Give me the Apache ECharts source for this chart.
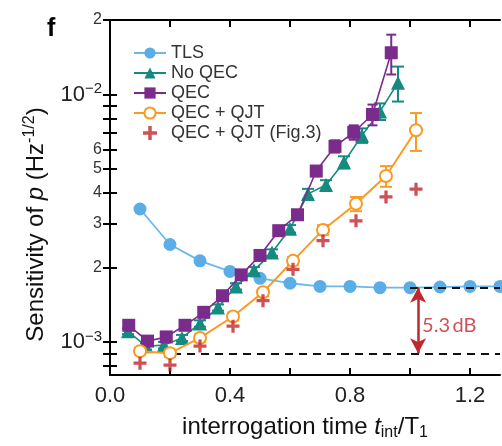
<!DOCTYPE html>
<html>
<head>
<meta charset="utf-8">
<script src="https://cdn.jsdelivr.net/npm/echarts@6/dist/echarts.min.js"></script>
<style>
  html, body { margin: 0; padding: 0; background: #fff; }
  #chart { width: 502px; height: 446px; }
</style>
</head>
<body>
<div id="chart"></div>
<script>
// Interrogation time (t_int / T1) and sensitivity of p (Hz^-1/2)
const tlsX = [0.1, 0.2, 0.3, 0.4, 0.5, 0.6, 0.7, 0.8, 0.9, 1.0, 1.1, 1.2, 1.3];
const tlsY = [3.45e-3, 2.48e-3, 2.13e-3, 1.93e-3, 1.81e-3, 1.73e-3, 1.68e-3, 1.68e-3, 1.66e-3, 1.66e-3, 1.67e-3, 1.68e-3, 1.68e-3];

const noQecX = [0.06, 0.12, 0.18, 0.24, 0.30, 0.36, 0.42, 0.48, 0.54, 0.60, 0.66, 0.72, 0.78, 0.84, 0.90, 0.96];
const noQecY = [1.107e-3, 0.963e-3, 0.973e-3, 1.04e-3, 1.19e-3, 1.38e-3, 1.68e-3, 1.95e-3, 2.30e-3, 2.87e-3, 3.97e-3, 4.31e-3, 5.33e-3, 6.84e-3, 8.55e-3, 11.17e-3];
const noQecErr = [0.03e-3, 0.03e-3, 0.03e-3, 0.03e-3, 0.035e-3, 0.04e-3, 0.05e-3, 0.06e-3, 0.07e-3, 0.10e-3, 0.19e-3, 0.20e-3, 0.30e-3, 0.46e-3, 0.66e-3, 1.8e-3];

const qecX = [0.0625, 0.125, 0.1875, 0.25, 0.3125, 0.375, 0.4375, 0.5, 0.5625, 0.625, 0.6875, 0.75, 0.8125, 0.875, 0.9375];
const qecY = [1.17e-3, 1.01e-3, 1.05e-3, 1.17e-3, 1.32e-3, 1.54e-3, 1.87e-3, 2.24e-3, 2.82e-3, 3.27e-3, 4.91e-3, 6.18e-3, 7.04e-3, 8.31e-3, 14.75e-3];
const qecErr = [0.03e-3, 0.03e-3, 0.03e-3, 0.035e-3, 0.04e-3, 0.045e-3, 0.055e-3, 0.065e-3, 0.08e-3, 0.12e-3, 0.23e-3, 0.35e-3, 0.47e-3, 0.8e-3, 2.7e-3];

const qjtX = [0.1, 0.2, 0.3, 0.41, 0.51, 0.61, 0.71, 0.82, 0.92, 1.02];
const qjtY = [0.92e-3, 0.903e-3, 1.04e-3, 1.27e-3, 1.59e-3, 2.13e-3, 2.84e-3, 3.62e-3, 4.69e-3, 7.17e-3];
const qjtErr = [0.03e-3, 0.03e-3, 0.035e-3, 0.045e-3, 0.055e-3, 0.075e-3, 0.13e-3, 0.24e-3, 0.45e-3, 1.25e-3];

const fig3X = [0.1, 0.2, 0.3, 0.41, 0.51, 0.61, 0.71, 0.82, 0.92, 1.02];
const fig3Y = [0.823e-3, 0.808e-3, 0.964e-3, 1.16e-3, 1.47e-3, 1.97e-3, 2.57e-3, 3.09e-3, 3.86e-3, 4.15e-3];

// Gain annotation: TLS plateau versus the QEC + QJT optimum
const gainDb = 5.3;
const tlsPlateau = 1.66e-3;
const qjtOptimum = tlsPlateau / Math.pow(10, gainDb / 20);
const arrowX = 1.027;

// Axis ticks and labels
const xTicks = [0, 0.2, 0.4, 0.6, 0.8, 1.0, 1.2];
const xLabels = [0, 0.4, 0.8, 1.2];
const yTicks = [8e-4, 9e-4, 1e-3, 2e-3, 3e-3, 4e-3, 5e-3, 6e-3, 7e-3, 8e-3, 9e-3, 1e-2, 2e-2];
const yLabels = [1e-3, 2e-3, 3e-3, 4e-3, 5e-3, 6e-3, 1e-2, 2e-2];

const X_MIN = 0, X_MAX = 1.3, Y_MIN = 7.37e-4, Y_MAX = 2e-2;

const C_TLS = '#5aade6', C_TEAL = '#148a80', C_PURPLE = '#7a2b8c', C_ORANGE = '#fa9a24', C_RED = '#c1272d';
const FONT = '"Liberation Sans", Arial, sans-serif';
const PLUS = 'path://M4.5,0H7.5V4.5H12V7.5H7.5V12H4.5V7.5H0V4.5H4.5Z';

const zip = (xs, ys) => xs.map((x, i) => [x, ys[i]]);
const bars = (xs, ys, es) => xs.map((x, i) => [x, ys[i] - es[i], ys[i] + es[i]]);

function errorBars(name, xs, ys, es, color, cap, z) {
  return {
    type: 'custom',
    name: name + ' err',
    xAxisIndex: 0, yAxisIndex: 0,
    data: bars(xs, ys, es),
    encode: { x: 0, y: [1, 2] },
    z: z,
    silent: true,
    renderItem: function (params, api) {
      const x = api.value(0);
      const lo = api.coord([x, api.value(1)]);
      const hi = api.coord([x, api.value(2)]);
      const st = { stroke: color, lineWidth: 2 };
      return {
        type: 'group',
        children: [
          { type: 'line', shape: { x1: hi[0], y1: hi[1], x2: lo[0], y2: lo[1] }, style: st },
          { type: 'line', shape: { x1: hi[0] - cap, y1: hi[1], x2: hi[0] + cap, y2: hi[1] }, style: st },
          { type: 'line', shape: { x1: lo[0] - cap, y1: lo[1], x2: lo[0] + cap, y2: lo[1] }, style: st }
        ]
      };
    }
  };
}

function yLabel(v) {
  const e = Math.floor(Math.log10(v) + 1e-9);
  const m = Math.round(v / Math.pow(10, e));
  if (m === 1) return '{b|10}{sup|\u2212' + (-e) + '}';
  return '{m|' + m + '}';
}

const chart = echarts.init(document.getElementById('chart'), null, { renderer: 'canvas' });

const axisLineStyle = { show: true, lineStyle: { color: '#000', width: 2 } };

chart.setOption({
  animation: false,
  backgroundColor: '#fff',
  textStyle: { fontFamily: FONT },
  grid: { left: 110, right: 2, top: 20, bottom: 69, containLabel: false },
  legend: {
    data: ['TLS', 'No QEC', 'QEC', 'QEC + QJT', 'QEC + QJT (Fig.3)'],
    orient: 'vertical',
    left: 128, top: 39,
    itemWidth: 32, itemHeight: 14, itemGap: 2,
    textStyle: { fontFamily: FONT, fontSize: 18, color: '#333', lineHeight: 18 },
    selectedMode: false
  },
  xAxis: [
    {
      type: 'value', position: 'bottom', min: X_MIN, max: X_MAX,
      axisLine: axisLineStyle,
      axisTick: { inside: true, length: 7, lineStyle: { color: '#000', width: 2 }, customValues: xTicks },
      axisLabel: {
        customValues: xLabels, margin: 10, fontSize: 22, color: '#222', fontFamily: FONT,
        formatter: v => v.toFixed(1)
      },
      splitLine: { show: false },
      name: '{n|interrogation time }{i|t}{s|int}{n|/T}{s|1}',
      nameLocation: 'middle', nameGap: 38,
      nameTextStyle: {
        rich: {
          n: { fontSize: 24, fontFamily: FONT, color: '#111', lineHeight: 28 },
          i: { fontSize: 24, fontFamily: FONT, color: '#111', fontStyle: 'italic', lineHeight: 28 },
          s: { fontSize: 16, fontFamily: FONT, color: '#111', lineHeight: 11, verticalAlign: 'bottom' }
        }
      }
    },
    {
      type: 'value', position: 'top', min: X_MIN, max: X_MAX,
      axisLine: axisLineStyle,
      axisTick: { inside: true, length: 7, lineStyle: { color: '#000', width: 2 }, customValues: xTicks },
      axisLabel: { show: false },
      splitLine: { show: false }
    }
  ],
  yAxis: [
    {
      type: 'log', logBase: 10, position: 'left', min: Y_MIN, max: Y_MAX,
      axisLine: axisLineStyle,
      axisTick: { inside: true, length: 7, lineStyle: { color: '#000', width: 2 }, customValues: yTicks },
      axisLabel: {
        customValues: yLabels, margin: 8, formatter: yLabel,
        rich: {
          b: { fontSize: 22, fontFamily: FONT, color: '#222', lineHeight: 26 },
          sup: { fontSize: 15, fontFamily: FONT, color: '#222', lineHeight: 12, verticalAlign: 'top' },
          m: { fontSize: 16, fontFamily: FONT, color: '#333', lineHeight: 16 }
        }
      },
      splitLine: { show: false },
      minorTick: { show: false },
      name: '{n|Sensitivity of }{i|p}{n| (Hz}{s|-1/2}{n|)}',
      nameLocation: 'middle', nameGap: 60, nameRotate: 90,
      nameTextStyle: {
        padding: [0, 54, 0, 0],
        rich: {
          n: { fontSize: 24, fontFamily: FONT, color: '#111', lineHeight: 28 },
          i: { fontSize: 24, fontFamily: FONT, color: '#111', fontStyle: 'italic', lineHeight: 28 },
          s: { fontSize: 16, fontFamily: FONT, color: '#111', lineHeight: 11, verticalAlign: 'top' }
        }
      }
    },
    {
      type: 'log', logBase: 10, position: 'right', min: Y_MIN, max: Y_MAX,
      axisLine: axisLineStyle,
      axisTick: { inside: true, length: 7, lineStyle: { color: '#000', width: 2 }, customValues: yTicks },
      axisLabel: { show: false },
      splitLine: { show: false }
    }
  ],
  series: [
    {
      name: 'TLS', type: 'line', data: zip(tlsX, tlsY),
      symbol: 'circle', symbolSize: 13, z: 2,
      itemStyle: { color: C_TLS },
      lineStyle: { color: '#6cb8ea', width: 1.8 },
      markLine: {
        silent: true, symbol: 'none', label: { show: false },
        lineStyle: { color: '#111', width: 2, type: [8, 6] },
        data: [
          [{ coord: [1.0, tlsPlateau] }, { coord: [X_MAX, tlsPlateau] }],
          [{ coord: [0.21, qjtOptimum] }, { coord: [X_MAX, qjtOptimum] }]
        ]
      }
    },
    errorBars('No QEC', noQecX, noQecY, noQecErr, C_TEAL, 6, 3),
    {
      name: 'No QEC', type: 'line', data: zip(noQecX, noQecY),
      symbol: 'triangle', symbolSize: 14, z: 3,
      itemStyle: { color: C_TEAL },
      lineStyle: { color: C_TEAL, width: 1.6 }
    },
    errorBars('QEC', qecX, qecY, qecErr, C_PURPLE, 5, 4),
    {
      name: 'QEC', type: 'line', data: zip(qecX, qecY),
      symbol: 'rect', symbolSize: 13, z: 4,
      itemStyle: { color: C_PURPLE },
      lineStyle: { color: C_PURPLE, width: 1.6 }
    },
    errorBars('QEC + QJT', qjtX, qjtY, qjtErr, C_ORANGE, 6, 5),
    {
      name: 'QEC + QJT', type: 'line', data: zip(qjtX, qjtY),
      symbol: 'emptyCircle', symbolSize: 12, z: 5,
      itemStyle: { color: C_ORANGE, borderWidth: 2 },
      lineStyle: { color: C_ORANGE, width: 2 }
    },
    {
      name: 'QEC + QJT (Fig.3)', type: 'scatter', data: zip(fig3X, fig3Y),
      symbol: PLUS, symbolSize: 13, z: 6,
      itemStyle: { color: C_RED }
    },
    {
      name: 'gain', type: 'line', data: [], z: 7, silent: true,
      markLine: {
        silent: true, symbol: ['arrow', 'arrow'], symbolSize: [12, 15],
        label: { show: false },
        lineStyle: { color: C_RED, width: 2.5, type: 'solid' },
        data: [[{ coord: [arrowX, tlsPlateau] }, { coord: [arrowX, qjtOptimum] }]]
      }
    },
    {
      name: 'gain label', type: 'scatter', z: 7, silent: true,
      data: [[arrowX, Math.sqrt(tlsPlateau * qjtOptimum)]],
      symbolSize: 0,
      label: {
        show: true, position: 'right', distance: 4, offset: [0, 5],
        formatter: gainDb.toFixed(1) + '\u2009dB',
        fontFamily: 'Lato, "Open Sans", sans-serif', fontSize: 20, color: C_RED
      }
    }
  ],
  graphic: [
    {
      type: 'text', left: 47, top: 17,
      style: { text: 'f', fontFamily: FONT, fontWeight: 'bold', fontSize: 25, fill: '#000' }
    }
  ]
});
</script>
</body>
</html>
